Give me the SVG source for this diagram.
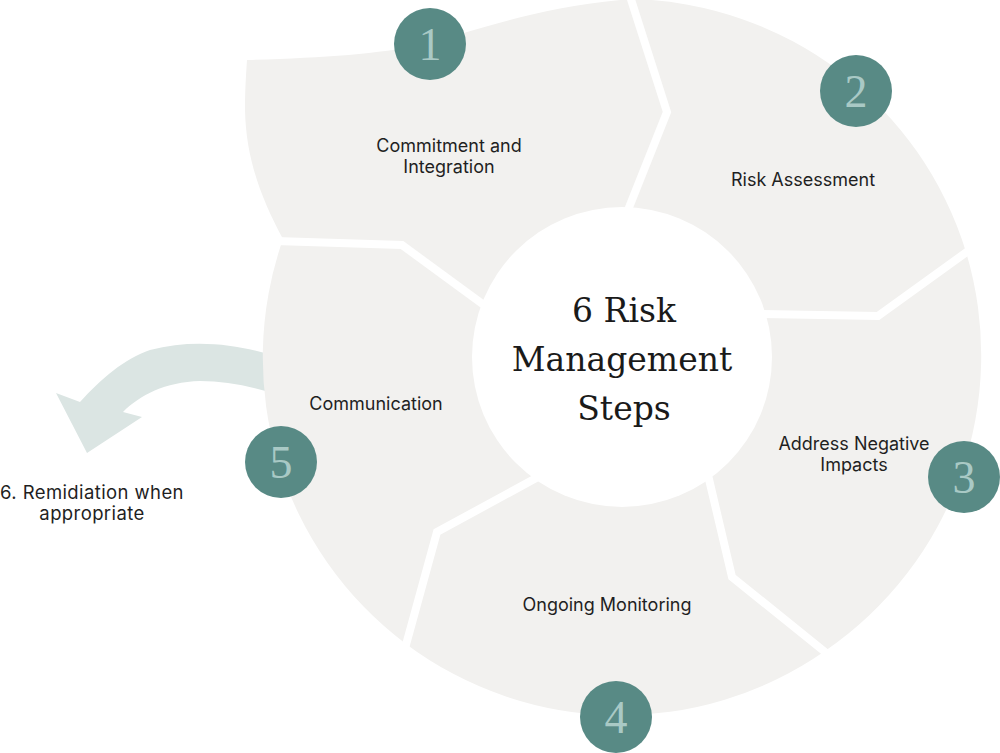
<svg xmlns="http://www.w3.org/2000/svg" width="1000" height="753" viewBox="0 0 1000 753">
<style>
.seg{fill:#f2f1ef}
.sep{fill:none;stroke:#ffffff;stroke-width:8;stroke-linejoin:miter}
.badge{fill:#588a85}
.num{font-family:"Liberation Serif","DejaVu Serif",serif;font-size:46px;fill:#a9c9c5;text-anchor:middle}
.lbl{font-family:Inter,"Liberation Sans",sans-serif;font-size:18px;fill:#1f1f1f;text-anchor:middle}
.big{font-size:18.5px;letter-spacing:0.4px}
.title{font-family:"DejaVu Serif","Liberation Serif",serif;font-size:33px;fill:#1a1a1a;text-anchor:middle}
</style>
<rect width="1000" height="753" fill="#ffffff"/>
<g id="connectors">
<path d="M 275,356 C 240,345 195,338 150,350 C 125,358 100,380 80,402 L 56,393 L 87,453 L 142,417 L 123,412 C 140,395 165,382 200,381 C 225,381 250,386 275,394 Z" fill="#dbe5e3"/>
</g>
<g id="step1">
<path class="seg" d="M 622,357 L 482,303 L 402,245 L 283,239 C 262,200 246,160 245,110 C 245,90 246,75 247,60 C 320,58 380,54 420,45 C 480,30 540,6 632,-1 L 667,112 L 628,212 Z"/>
</g>
<g id="step2">
<path class="seg" d="M 622,357 L 628,212 L 667,112 L 632,-1 A 358 358 0 0 1 966,252 L 878,316 L 765,314 Z"/>
</g>
<g id="step3">
<path class="seg" d="M 622,357 L 765,314 L 878,316 L 966,252 A 358 358 0 0 1 825,651 L 732,577 L 710,482 Z"/>
</g>
<g id="step4">
<path class="seg" d="M 622,357 L 710,482 L 732,577 L 825,651 A 358 358 0 0 1 406,644 L 437,532 L 532,480 Z"/>
</g>
<g id="step5">
<path class="seg" d="M 622,357 L 532,480 L 437,532 L 406,644 A 358 358 0 0 1 283,239 L 402,245 L 482,303 Z"/>
</g>
<g id="separators">
<polyline class="sep" points="628,-10 667,112 626,215"/>
<polyline class="sep" points="975,246 878,316 760,314"/>
<polyline class="sep" points="830,656 732,577 708,475"/>
<polyline class="sep" points="404,652 437,532 538,477"/>
<polyline class="sep" points="275,241 402,245 488,308"/>
</g>
<g id="center">
<circle cx="622" cy="357" r="150" fill="#ffffff"/>
<text class="title" x="624" y="322">6 Risk</text>
<text class="title" x="622" y="371">Management</text>
<text class="title" x="624" y="420">Steps</text>
</g>
<g id="badge1"><circle class="badge" cx="430" cy="44" r="36"/><text class="num" x="430" y="60">1</text></g>
<g id="badge2"><circle class="badge" cx="856" cy="91" r="36"/><text class="num" x="856" y="107">2</text></g>
<g id="badge3"><circle class="badge" cx="964" cy="477" r="36"/><text class="num" x="964" y="493">3</text></g>
<g id="badge4"><circle class="badge" cx="616" cy="717" r="36"/><text class="num" x="616" y="733">4</text></g>
<g id="badge5"><circle class="badge" cx="281" cy="462" r="36"/><text class="num" x="281" y="478">5</text></g>
<g id="labels">
<text class="lbl" x="449" y="152">Commitment and</text>
<text class="lbl" x="449" y="173">Integration</text>
<text class="lbl" x="803" y="186">Risk Assessment</text>
<text class="lbl" x="854" y="450">Address Negative</text>
<text class="lbl" x="854" y="471">Impacts</text>
<text class="lbl" x="607" y="611">Ongoing Monitoring</text>
<text class="lbl" x="376" y="410">Communication</text>
<text class="lbl big" x="92" y="499">6. Remidiation when</text>
<text class="lbl big" x="92" y="520">appropriate</text>
</g>
</svg>
